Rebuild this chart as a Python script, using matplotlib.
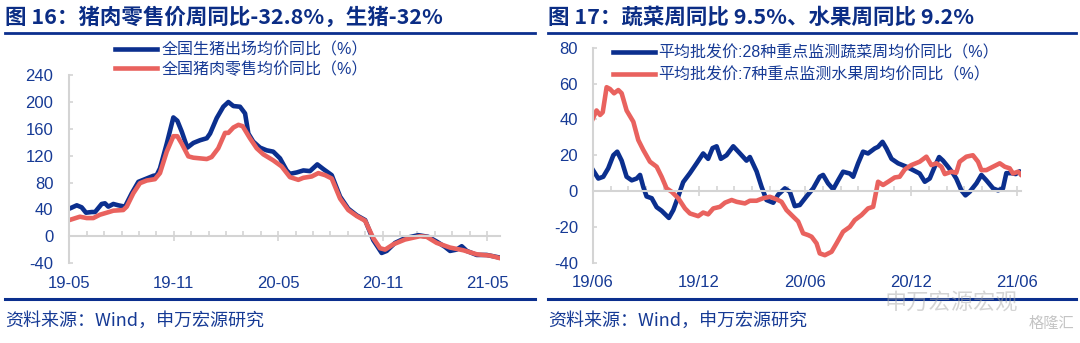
import matplotlib
matplotlib.use("Agg")
import matplotlib.pyplot as plt
from matplotlib.lines import Line2D

plt.rcParams['font.family'] = ['Liberation Sans', 'Noto Sans CJK SC']
plt.rcParams['axes.unicode_minus'] = False

BLUE = '#0B2F8E'
RED = '#E9625E'
TXT = '#163A95'
GRID = '#D4D4D4'

# ---------------- data: left chart (months since 2019-05) ----------------
pig_m = [0, 0.43, 0.71, 0.96, 1.29, 1.48, 1.86, 2.05, 2.24, 2.53,
         2.82, 3.2, 3.59, 3.97, 4.45, 4.83, 5.02, 5.21, 5.6, 5.98,
         6.21, 6.46, 6.78, 7.13, 7.51, 7.9, 8.09, 8.47, 8.85, 9.14,
         9.43, 9.81, 10.1, 10.29, 10.57, 10.96, 11.34, 11.72, 12.11, 12.49,
         12.68, 13.07, 13.45, 13.83, 14.25, 14.6, 15.08, 15.56, 16.03, 16.52,
         17.0, 17.47, 17.95, 18.24, 18.72, 19.29, 20.06, 20.63, 21.11, 21.59,
         21.88, 22.26, 22.55, 22.84, 23.41, 23.99, 24.75]
pig_v = [41, 46, 43, 35, 36, 36, 48, 49, 44, 48,
         46, 44, 64, 81, 86, 90, 91, 101, 138, 177,
         172, 156, 132, 139, 143, 146, 153, 176, 193, 200,
         194, 193, 183, 153, 141, 132, 128, 126, 116, 98,
         93, 95, 98, 97, 107, 100, 91, 59, 41, 31,
         24, -6, -25, -22, -10, -3, 1.5, -1, -8, -16,
         -22, -20, -15, -22, -28, -28, -32]

pork_m = [0, 0.61, 1.0, 1.38, 1.76, 2.15, 2.53, 3.1, 3.3, 3.68,
          4.06, 4.45, 4.92, 5.21, 5.6, 5.98, 6.21, 6.46, 6.84, 7.13,
          7.9, 8.18, 8.56, 8.95, 9.14, 9.43, 9.72, 9.96, 10.38, 10.77,
          11.15, 11.72, 12.2, 12.68, 13.16, 13.45, 13.93, 14.31, 14.7, 15.08,
          15.56, 16.03, 16.52, 17.0, 17.47, 17.86, 18.15, 18.63, 19.29, 20.16,
          20.54, 21.11, 21.88, 22.64, 23.41, 24.18, 24.75]
pork_v = [24, 29, 27, 27, 32, 35, 38, 39, 44, 64,
          79, 83, 85, 94, 126, 149, 149, 138, 119, 117,
          115, 118, 131, 154, 154, 162, 166, 164, 146, 131,
          122, 113, 104, 88, 84, 87, 89, 94, 91, 86,
          56, 39, 30, 23, -3, -18, -20, -12, -5, 0,
          -1, -10, -17, -21, -27, -29, -32.8]

left_ticks = [0, 6, 12, 18, 24]
left_labels = ['19-05', '19-11', '20-05', '20-11', '21-05']
left_yticks = [-40, 0, 40, 80, 120, 160, 200, 240]
left_names = ['全国生猪出场均价同比（%）', '全国猪肉零售均价同比（%）']

# ---------------- data: right chart (months since 2019-06) ----------------
veg_m = [0, 0.3, 0.58, 0.86, 1.15, 1.37, 1.62, 1.9, 2.19, 2.47,
         2.66, 2.84, 3.03, 3.32, 3.6, 3.88, 4.29, 4.54, 4.82, 5.1,
         5.48, 5.86, 6.23, 6.51, 6.76, 6.99, 7.23, 7.55, 7.93, 8.31,
         8.68, 8.87, 9.25, 9.53, 9.81, 10.19, 10.47, 10.85, 11.13, 11.41,
         11.69, 12.07, 12.45, 12.82, 13.01, 13.29, 13.58, 13.86, 14.14, 14.52,
         14.71, 14.99, 15.27, 15.55, 15.93, 16.12, 16.37, 16.59, 16.88, 17.25,
         17.72, 18.1, 18.47, 18.76, 19.04, 19.32, 19.57, 19.79, 20.07, 20.36,
         20.54, 20.83, 21.06, 21.3, 21.68, 21.96, 22.24, 22.62, 22.9, 23.18,
         23.37, 23.65, 23.9, 24.12, 24.2]
veg_v = [11.7, 7, 8, 12.7, 20, 22, 17, 8, 6, 7,
         9, 2.4, -3, -4, -9, -11, -15, -10.6, -3, 5,
         10, 15.5, 21, 18, 24, 25, 18, 20, 25, 21,
         17, 19, 11, 2.4, -5, -6.5, -2, 1.5, -0.4, -8.4,
         -7.8, -3, 1.5, 8, 9, 4.3, 1, 6, 10.8, 9.8,
         8, 15.5, 22, 21, 23.8, 24.7, 27.5, 23.8, 18, 15.5,
         13.6, 11.7, 9.8, 5.2, 7, 13.6, 19, 17, 13.6, 9.8,
         7, 0.4, -2.4, -0.4, 4.3, 9, 6, 1.5, 0.4, 1.5,
         10, 10, 9.5, 11, 9.5]

fruit_m = [0, 0.2, 0.4, 0.55, 0.77, 0.96, 1.19, 1.43, 1.62, 1.9,
           2.28, 2.56, 2.84, 3.22, 3.6, 3.88, 4.16, 4.45, 4.82, 5.2,
           5.48, 5.95, 6.23, 6.51, 6.8, 7.18, 7.46, 7.84, 8.12, 8.59,
           8.87, 9.25, 9.62, 10.0, 10.38, 10.66, 10.94, 11.32, 11.6, 11.88,
           12.17, 12.36, 12.64, 12.82, 13.11, 13.49, 13.77, 14.14, 14.52, 14.8,
           15.18, 15.55, 15.84, 16.12, 16.4, 16.69, 17.06, 17.34, 17.63, 18.0,
           18.47, 18.85, 19.13, 19.42, 19.7, 19.89, 20.26, 20.54, 20.73, 21.11,
           21.48, 21.77, 21.96, 22.24, 22.62, 23.0, 23.28, 23.56, 23.75, 24.03,
           24.2]
fruit_v = [40.6, 45, 42.5, 44, 58, 57, 54.6, 56.4, 54.6, 45,
           38.7, 28.5, 23, 16.4, 13.6, 8, 1.5, -0.4, -4, -9.7,
           -12.5, -14, -12, -13, -9.7, -8.8, -6.5, -5, -6, -6.9,
           -5.4, -5.4, -4, -3.2, -4.6, -6, -10.6, -14.3, -17, -23.6,
           -24.6, -25.5, -29.2, -34.8, -35.8, -33.9, -29.2, -22.7, -20, -16.2,
           -13.4, -9.7, -8.8, 5.2, 3.4, 5.2, 7.6, 8, 12.1, 14.5,
           16.4, 19.2, 14.5, 15.5, 13.6, 9.5, 10.8, 10.2, 16.4, 19.2,
           20, 16.4, 11.7, 11.7, 13.6, 15.5, 13.6, 12.7, 9.8, 10.8,
           9.2]

right_ticks = [0, 6, 12, 18, 24]
right_labels = ['19/06', '19/12', '20/06', '20/12', '21/06']
right_yticks = [-40, -20, 0, 20, 40, 60, 80]
right_names = ['平均批发价:28种重点监测蔬菜周均价同比（%）',
               '平均批发价:7种重点监测水果周均价同比（%）']

titles = ['图 16：猪肉零售价周同比-32.8%，生猪-32%',
          '图 17：蔬菜周同比 9.5%、水果周同比 9.2%']
source = '资料来源：Wind，申万宏源研究'

W, H = 1080, 343
fig = plt.figure(figsize=(W / 100, H / 100), dpi=100)


def px(x0, y0, x1, y1):
    # pixel box -> figure fraction rect
    return [x0 / W, 1 - y1 / H, (x1 - x0) / W, (y1 - y0) / H]


def style_axes(ax, ticks, labels, yticks, xmax, ymin, ymax, ylabpad, xlabpad):
    ax.set_xlim(0, xmax)
    ax.set_ylim(ymin, ymax)
    for s in ['top', 'right']:
        ax.spines[s].set_visible(False)
    ax.spines['left'].set_color(GRID)
    ax.spines['left'].set_linewidth(1.5)
    ax.spines['bottom'].set_color(GRID)
    ax.spines['bottom'].set_linewidth(1.5)
    ax.spines['bottom'].set_position(('data', 0))
    ax.set_xticks(ticks)
    ax.set_xticklabels(labels)
    ax.set_xticks(range(0, int(xmax) + 1), minor=True)
    ax.set_yticks(yticks)
    ax.tick_params(axis='x', which='major', direction='inout', length=7,
                   width=1.2, color=GRID, pad=xlabpad, labelsize=12, labelcolor=TXT)
    ax.tick_params(axis='x', which='minor', direction='in', length=3.5,
                   width=1.2, color=GRID)
    ax.tick_params(axis='y', direction='in', length=3, width=1.2, color=GRID,
                   pad=ylabpad, labelsize=12, labelcolor=TXT)


# left chart
ax1 = fig.add_axes(px(69.3, 75.2, 500, 263))
ax1.plot(pig_m, pig_v, color=BLUE, lw=3.3, label=left_names[0], solid_joinstyle='round')
ax1.plot(pork_m, pork_v, color=RED, lw=3.3, label=left_names[1], solid_joinstyle='round')
style_axes(ax1, left_ticks, left_labels, left_yticks, 24.75, -40, 240, 11.5, 25)
ax1.legend(loc='upper left', bbox_to_anchor=(115 / W, 1 - 42 / H),
           bbox_transform=fig.transFigure, frameon=False, fontsize=11.5,
           handlelength=2.6, handletextpad=0.3, labelspacing=0.26,
           borderpad=0, borderaxespad=0, labelcolor=TXT)

# right chart
ax2 = fig.add_axes(px(593, 47.8, 1021, 262.7))
ax2.plot(veg_m, veg_v, color=BLUE, lw=3.3, label=right_names[0], solid_joinstyle='round')
ax2.plot(fruit_m, fruit_v, color=RED, lw=3.3, label=right_names[1], solid_joinstyle='round')
style_axes(ax2, right_ticks, right_labels, right_yticks, 24.2, -40, 80, 10.8, 57)
ax2.legend(loc='upper left', bbox_to_anchor=(613 / W, 1 - 45 / H),
           bbox_transform=fig.transFigure, frameon=False, fontsize=11.5,
           handlelength=2.6, handletextpad=0.2, labelspacing=0.42,
           borderpad=0, borderaxespad=0, labelcolor=TXT)

# titles, rules and source lines
for x0, x1, t in [(5, 535, titles[0]), (548, 1076, titles[1])]:
    fig.text(x0 / W, 1 - 17 / H, t, fontsize=15.5, fontweight='bold', color='#0B2D85',
             family=['Noto Sans CJK SC', 'DejaVu Sans'], va='center', ha='left')
    fig.add_artist(Line2D([x0 / W, x1 / W], [1 - 33 / H] * 2, color='#0B2F8E', lw=2))
    fig.add_artist(Line2D([x0 / W, x1 / W], [1 - 299 / H] * 2, color='#0B2F8E', lw=2.2))
    fig.text(x0 / W, 1 - 321 / H, source, fontsize=13, color=TXT,
             family=['Noto Sans CJK SC', 'DejaVu Sans'], va='center', ha='left')

# watermark
fig.text(885 / W, 1 - 303 / H, '申万宏源宏观', fontsize=16, color='#AAAAAA', alpha=0.5,
         family=['Noto Sans CJK SC'], va='center', ha='left')
fig.text(1074 / W, 1 - 323 / H, '格隆汇', fontsize=11, color='#C4C4C4',
         family=['Noto Sans CJK SC'], va='center', ha='right')

fig.savefig('out.png', dpi=100)
